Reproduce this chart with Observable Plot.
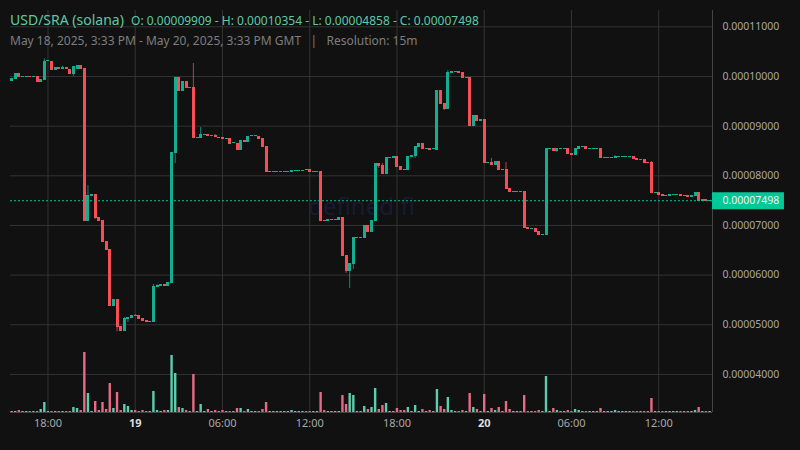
<!DOCTYPE html>
<html><head><meta charset="utf-8">
<script src="https://cdn.jsdelivr.net/npm/d3@7"></script>
<script src="https://cdn.jsdelivr.net/npm/@observablehq/plot@0.6"></script>
<style>
html,body{margin:0;padding:0;background:#111;width:800px;height:450px;overflow:hidden}
#chart{position:relative;width:800px;height:450px;font-family:"Noto Sans",sans-serif}
#head{position:absolute;left:10px;top:10px;z-index:2;white-space:pre}
#l1{color:#5fc9a7;font-size:12px;line-height:20px}
#l1 b{font-weight:400;font-size:14px;margin-right:4px}
#l2{color:#7e7e7e;font-size:12px;line-height:20px}
svg{display:block}
</style></head><body>
<div id="chart">
<div id="head"><div id="l1"><b>USD/SRA (solana)</b> O: 0.00009909 - H: 0.00010354 - L: 0.00004858 - C: 0.00007498</div><div id="l2">May 18, 2025, 3:33 PM - May 20, 2025, 3:33 PM GMT   |   Resolution: 15m</div></div>
</div>
<script>
// prices in units of 0.00000001, one entry per 15-minute candle
const startTime = Date.UTC(2025,4,18,15,30);
const stepMs = 15*60*1000;
const opens = [9909,9940,10060,9980,9980,10000,9980,9990,9879,9919,10292,10302,10121,10181,10150,10181,10141,10040,10141,10221,
10161,7080,7583,7623,7160,7100,6677,6516,5368,5509,4965,4864,5106,5126,5187,5187,5126,5086,5046,5046,
5751,5771,5811,5771,5831,8449,9980,9698,9899,9758,9778,8761,8751,8812,8832,8792,8812,8781,8771,8741,
8751,8641,8651,8510,8711,8671,8782,8782,8792,8751,8590,8070,8070,8070,8070,8070,8070,8067,8090,8090,
8090,8127,8127,8070,8070,8087,7100,7080,7105,7105,7100,7160,6395,6073,6214,6745,6745,6737,6999,6858,
7080,8248,8208,8026,8357,8349,8389,8187,8125,8107,8369,8389,8570,8651,8530,8550,8520,8510,9718,9456,
9335,10060,10080,10101,10081,9965,9980,8993,9215,9094,9134,8255,8268,8208,8288,8110,8127,7744,7670,7670,
7670,7684,6959,6925,6939,6878,6805,6798,8535,8550,8490,8535,8535,8550,8449,8409,8530,8575,8590,8535,
8535,8535,8550,8355,8355,8355,8349,8375,8375,8375,8375,8389,8349,8315,8328,8265,8268,7650,7664,7623,
7590,7583,7610,7610,7623,7610,7603,7563,7583,7664,7483,7523,7483];
const closes = [9955,10060,9980,10000,10000,9980,10000,9879,9940,10302,10312,10121,10181,10141,10181,10135,10040,10201,10221,10141,
7080,7603,7623,7140,7080,6657,6496,5368,5509,4945,4864,5126,5146,5187,5166,5106,5066,5046,5066,5771,
5791,5811,5771,5851,8469,9980,9698,9899,9758,9778,8761,8781,8822,8832,8792,8812,8771,8761,8731,8761,
8630,8661,8510,8711,8671,8792,8802,8802,8731,8570,8067,8090,8090,8090,8090,8090,8090,8107,8110,8110,
8110,8097,8067,8090,8090,7080,7085,7120,7125,7125,7160,6375,6073,6234,6758,6765,6765,6999,6858,7100,
8248,8187,8026,8369,8377,8389,8167,8107,8105,8389,8409,8590,8651,8530,8550,8510,8540,9718,9436,9335,
10081,10101,10100,10060,9960,9985,8993,9215,9094,9134,8248,8275,8208,8288,8107,8130,7724,7664,7690,7690,
7690,6939,6919,6945,6858,6798,6825,8550,8555,8490,8550,8555,8555,8429,8409,8550,8590,8595,8530,8555,
8555,8555,8349,8375,8375,8375,8389,8395,8395,8395,8395,8328,8308,8335,8248,8245,7644,7670,7603,7583,
7610,7623,7630,7630,7583,7590,7563,7603,7664,7483,7523,7483,7498];
// wicks that stick out of a candle's body
const wickBars  = [9,14,17,21,23,29,31,32,34,39,40,45,50,52,56,92,93,94,101,102,111,119,120,132,136,150,166,176];
const wickHighs = [10354,10207,10201,7805,7623,5509,5146,5146,5207,5811,5811,9980,10262,8973,8832,6395,6234,6758,8248,8248,8590,9456,10121,8349,8268,8550,8409,8288];
const wickLows  = [9919,10150,10000,7080,7120,4858,4864,5046,5166,5046,5751,8248,8761,8751,8771,6033,5730,6113,8147,8026,8349,9315,9335,8208,7724,8470,8349,7644];
// relative traded volume per candle
const volumes = [1,1,2,1,1,1,1,1,3,10, 1,1,1,1,1,1,1,5,4,2, 60,19,1,11,2,10,3,29,4,20, 2,8,6,2,2,1,2,1,1,21,
2,1,2,2,57,39,5,4,2,1, 38,1,8,1,3,1,2,1,2,1, 1,1,4,4,1,3,1,1,1,3, 10,1,1,1,1,1,1,2,1,1,
1,1,1,1,1,20,2,1,1,1, 1,17,8,19,17,1,1,6,3,5, 24,3,7,9,1,1,4,2,2,5, 1,7,1,3,1,2,1,23,6,3,
15,2,1,1,2,1,19,5,3,1, 18,1,4,2,5,1,11,3,1,1, 1,17,1,1,1,2,1,36,1,4, 2,1,1,2,1,3,2,1,1,1,
1,1,4,1,1,1,2,1,1,1, 1,1,1,1,1,1,14,1,1,1, 1,1,1,1,1,1,1,1,2,5, 1,1,1];
const priceTicks = [4000,5000,6000,7000,8000,9000,10000,11000];
const hourTicks = [Date.UTC(2025,4,18,18),Date.UTC(2025,4,19,6),Date.UTC(2025,4,19,12),Date.UTC(2025,4,19,18),Date.UTC(2025,4,20,6),Date.UTC(2025,4,20,12)].map(d=>new Date(d));
const dayTicks = [Date.UTC(2025,4,19),Date.UTC(2025,4,20)].map(d=>new Date(d));
const lastPrice = 7498;
const xDomain = [new Date(Date.UTC(2025,4,18,15,25,24)), new Date(Date.UTC(2025,4,20,15,42))];
const yDomain = [3233,11329];
const volumeBase = 3233, volumeUnit = 20.14;

const UP="#13ad92", DOWN="#f64e57", VUP="#5ccdaf", VDOWN="#e96a84", GRID="#333333", LABEL="#a8a8a8", LAST="#00c896";

const candles = opens.map((o,i)=>({t:new Date(startTime+i*stepMs),o,c:closes[i],v:volumes[i],up:closes[i]>=o}));
const wicks = wickBars.map((b,k)=>({t:candles[b].t,h:wickHighs[k],l:wickLows[k],up:candles[b].up}));
const fmt = d=>(d*1e-8).toFixed(8);

const plot = Plot.plot({
  width:800,height:450,marginTop:10,marginBottom:38,marginLeft:10,marginRight:88,
  style:{background:"#111",fontFamily:"'Noto Sans',sans-serif",overflow:"visible"},
  x:{type:"utc",domain:xDomain,label:null},
  y:{domain:yDomain,label:null},
  marks:[
    Plot.gridX([...hourTicks,...dayTicks],{stroke:GRID,strokeOpacity:1}),
    Plot.gridY(priceTicks,{stroke:GRID,strokeOpacity:1}),
    Plot.text(["defined.fi"],{frameAnchor:"middle",dy:-4,fontSize:24,fill:"#1a1a33"}),
    Plot.ruleY([volumeBase],{stroke:"#444"}),
    Plot.ruleX([xDomain[1]],{stroke:"#444"}),
    Plot.ruleX(candles,{x:"t",y1:()=>volumeBase,y2:d=>volumeBase+d.v*volumeUnit,stroke:d=>d.up?VUP:VDOWN,strokeWidth:2.4}),
    Plot.ruleX(wicks,{x:"t",y1:"l",y2:"h",stroke:d=>d.up?UP:DOWN,strokeWidth:1,strokeOpacity:0.75}),
    Plot.ruleX(candles,{x:"t",y1:"o",y2:"c",stroke:d=>d.up?UP:DOWN,strokeWidth:3,shapeRendering:"crispEdges"}),
    Plot.ruleY([lastPrice],{stroke:LAST,strokeDasharray:"2 2"}),
    Plot.axisY({ticks:priceTicks,anchor:"right",tickSize:0,tickPadding:10,textAnchor:"start",tickFormat:fmt,fill:LABEL,fontSize:10.5,label:null}),
    Plot.axisX({ticks:hourTicks,tickSize:0,tickPadding:7,tickFormat:d3.utcFormat("%H:%M"),fill:LABEL,fontSize:11,label:null}),
    Plot.axisX({ticks:dayTicks,tickSize:0,tickPadding:7,tickFormat:d3.utcFormat("%-d"),fill:"#dddddd",fontWeight:700,fontSize:11,label:null}),
    Plot.ruleY([lastPrice],{x1:xDomain[1],x2:new Date(+xDomain[1]+4.95*3600e3),stroke:LAST,strokeWidth:17}),
    Plot.text([lastPrice],{x:xDomain[1],y:d=>d,text:fmt,textAnchor:"start",dx:10,fill:"#f0f0f0",fontSize:10.5})
  ]
});
document.getElementById("chart").appendChild(plot);
</script>
</body></html>
